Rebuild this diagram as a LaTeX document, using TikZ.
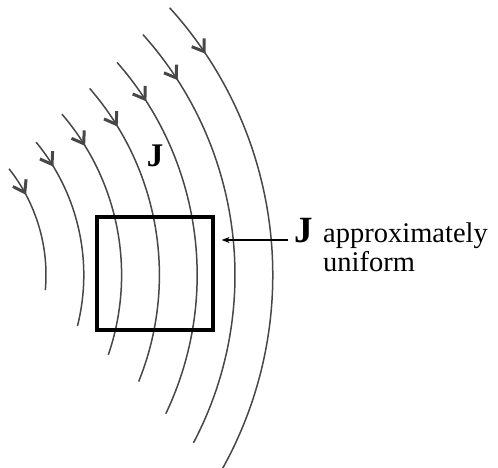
\documentclass[tikz,border=0pt]{standalone}
\usepackage{fontspec}
\setmainfont{Liberation Serif}
\usetikzlibrary{arrows.meta,positioning,calc,decorations.markings}

\begin{document}
\begin{tikzpicture}[
    x=1pt, y=1pt,
    fline/.style={draw=black!72, line width=1.5pt},
    barb/.style={postaction={decorate, decoration={markings,
        mark=at position #1 with {\draw[line width=3pt, line join=miter] (-11,7.5) -- (0,0) -- (-11,-7.5);}}}},
    loopbox/.style={draw, line width=3.2pt, inner sep=0pt, minimum width=116pt, minimum height=113pt},
    ptr/.style={-{Stealth[length=8pt,width=6pt]}, line width=1.8pt},
    txt/.style={font=\fontsize{28.5}{29}\selectfont, inner sep=0pt, align=left}
]
\useasboundingbox (0,0) rectangle (498,468);
\coordinate (o) at (-125,193);
% current lines, all round one centre
\foreach \r/\sa/\ea/\p in {171/38.4/-5.1/0.22, 208.8/39.5/-14.1/0.14, 246.6/40.7/-18.9/0.143,
    284.4/41/-22/0.143, 322.2/41.3/-25.5/0.123, 360/41.9/-27.8/0.125, 397.8/42.2/-29.5/0.112}
  \draw[fline, barb=\p] ($(o)+(\sa:\r)$) arc[start angle=\sa, end angle=\ea, radius=\r];

\node[loopbox] (box) at (155,194.5) {};
\node[font=\fontsize{33}{33}\selectfont\bfseries, inner sep=0pt, anchor=base] (jtop) at (155,301) {J};

\node[font=\fontsize{37}{37}\selectfont\bfseries, inner sep=0pt, anchor=base west] (jbig) at (294,225) {J};
\node[txt, anchor=base west] (note) at (323,196) {approximately\\uniform};
\draw[ptr] ($(jbig.base west)+(-6,3)$) -- ($(jbig.base west -| box.east)+(7,3)$);
\end{tikzpicture}
\end{document}
